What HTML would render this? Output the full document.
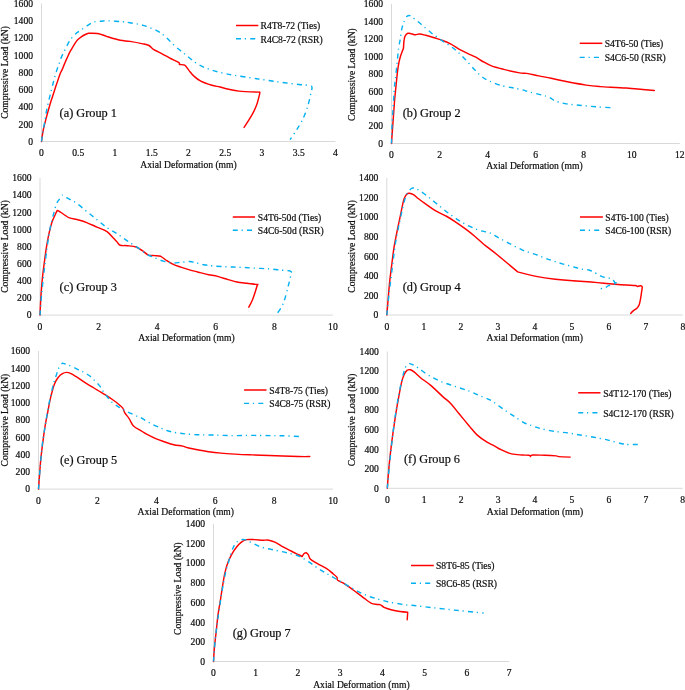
<!DOCTYPE html><html><head><meta charset="utf-8"><style>html,body{margin:0;padding:0;background:#fff;}svg{display:block;will-change:transform;}text{font-family:"Liberation Serif",serif;fill:#0d0d0d;stroke:#0d0d0d;stroke-width:0.2px;}</style></head><body>
<svg width="685" height="690" viewBox="0 0 685 690">
<rect width="685" height="690" fill="#fff"/>
<g>
<g><path d="M41.5 3.5V141.5H335.5" fill="none" stroke="#d9d9d9" stroke-width="1"/><text x="33.0" y="144.8" font-size="9.6" text-anchor="end">0</text><text x="33.0" y="127.5" font-size="9.6" text-anchor="end">200</text><text x="33.0" y="110.3" font-size="9.6" text-anchor="end">400</text><text x="33.0" y="93.0" font-size="9.6" text-anchor="end">600</text><text x="33.0" y="75.8" font-size="9.6" text-anchor="end">800</text><text x="33.0" y="58.5" font-size="9.6" text-anchor="end">1000</text><text x="33.0" y="41.3" font-size="9.6" text-anchor="end">1200</text><text x="33.0" y="24.1" font-size="9.6" text-anchor="end">1400</text><text x="33.0" y="6.8" font-size="9.6" text-anchor="end">1600</text><text x="41.5" y="156.3" font-size="9.6" text-anchor="middle">0</text><text x="78.2" y="156.3" font-size="9.6" text-anchor="middle">0.5</text><text x="115.0" y="156.3" font-size="9.6" text-anchor="middle">1</text><text x="151.8" y="156.3" font-size="9.6" text-anchor="middle">1.5</text><text x="188.5" y="156.3" font-size="9.6" text-anchor="middle">2</text><text x="225.2" y="156.3" font-size="9.6" text-anchor="middle">2.5</text><text x="262.0" y="156.3" font-size="9.6" text-anchor="middle">3</text><text x="298.8" y="156.3" font-size="9.6" text-anchor="middle">3.5</text><text x="335.5" y="156.3" font-size="9.6" text-anchor="middle">4</text><text x="188.5" y="167.8" font-size="9.6" text-anchor="middle">Axial Deformation (mm)</text><text transform="translate(5.0 72.5) rotate(-90)" font-size="9.6" text-anchor="middle" y="2.8">Compressive Load (kN)</text><text x="59.6" y="117.2" font-size="12.3">(a) Group 1</text><line x1="236.0" y1="25.5" x2="258.3" y2="25.5" stroke="#ff0000" stroke-width="1.5"/><line x1="236.0" y1="38.8" x2="258.3" y2="38.8" stroke="#00b0f0" stroke-width="1.4" stroke-dasharray="5 3.8 1.2 4.2"/><text x="260.5" y="29.3" font-size="9.6">R4T8-72 (Ties)</text><text x="260.5" y="42.6" font-size="9.6">R4C8-72 (RSR)</text><path d="M41.5 141.5C41.5 141.5 42.6 133.1 43.5 128.9C44.4 124.8 45.6 120.5 46.6 116.6C47.6 112.7 48.7 109.0 49.7 105.5C50.7 102.0 51.9 98.6 52.8 95.7C53.7 92.8 54.4 90.8 55.2 88.3C56.0 85.8 56.9 83.4 57.7 80.9C58.5 78.4 59.5 75.4 60.2 73.5C61.0 71.6 61.5 71.2 62.2 69.5C62.9 67.8 63.8 65.5 64.6 63.6C65.4 61.7 66.1 60.0 67.0 58.1C67.9 56.2 68.8 54.0 69.8 52.1C70.8 50.2 72.0 48.4 72.9 46.9C73.8 45.4 74.5 44.1 75.3 42.9C76.1 41.7 76.7 40.7 77.7 39.7C78.7 38.7 80.0 37.8 81.3 36.9C82.6 36.0 84.1 35.1 85.3 34.5C86.5 33.9 87.3 33.5 88.5 33.3C89.7 33.1 91.0 33.2 92.5 33.2C94.0 33.2 95.8 33.3 97.3 33.5C98.8 33.7 100.0 34.1 101.3 34.5C102.6 34.9 103.8 35.3 105.0 35.7C106.2 36.1 106.0 36.2 108.5 37.0C111.0 37.8 116.6 39.6 120.2 40.3C123.8 41.0 126.4 40.8 130.0 41.4C133.6 42.0 138.5 42.9 141.7 43.6C144.9 44.3 147.1 44.5 149.0 45.5C150.9 46.5 151.2 48.0 153.4 49.4C155.6 50.8 159.4 52.4 162.1 53.8C164.8 55.2 166.6 56.4 169.4 57.9C172.2 59.4 177.2 61.5 178.9 62.6C180.6 63.7 178.6 64.1 179.6 64.5C180.6 64.9 183.1 64.2 184.7 65.2C186.3 66.2 187.5 68.7 189.1 70.6C190.7 72.5 192.2 74.7 194.2 76.4C196.1 78.2 197.9 79.6 200.8 81.1C203.7 82.6 208.6 84.2 211.8 85.2C215.0 86.2 217.2 86.3 220.0 87.0C222.8 87.7 225.6 88.5 228.8 89.2C232.0 89.9 233.9 90.6 239.0 91.1C244.1 91.6 259.4 92.1 259.4 92.1C259.4 92.1 260.2 91.4 259.7 93.6C259.2 95.8 257.8 101.8 256.5 105.3C255.2 108.8 254.2 111.0 252.1 114.7C250.0 118.4 244.1 127.4 244.1 127.4" fill="none" stroke="#ff0000" stroke-width="1.45" stroke-linejoin="round" stroke-linecap="round"/><path d="M41.5 141.5C41.5 141.5 42.4 134.7 42.9 131.4C43.4 128.1 44.2 125.0 44.8 121.5C45.4 118.0 45.9 114.2 46.6 110.5C47.3 106.8 48.3 102.9 49.1 99.4C49.9 95.9 50.7 92.8 51.5 89.5C52.3 86.2 53.2 82.8 54.0 79.7C54.8 76.6 55.7 73.7 56.5 71.1C57.3 68.5 58.2 66.4 59.0 64.2C59.8 62.0 60.1 60.2 61.0 58.1C61.9 56.0 63.1 53.5 64.2 51.3C65.3 49.1 66.3 47.0 67.4 44.9C68.5 42.8 69.6 40.8 71.0 38.9C72.4 37.0 74.0 35.2 75.7 33.7C77.4 32.2 79.3 31.2 81.3 29.8C83.3 28.4 85.6 26.7 87.7 25.4C89.8 24.1 91.8 22.7 94.1 22.0C96.4 21.3 98.9 21.4 101.3 21.2C103.7 21.0 105.0 20.7 108.5 20.8C112.0 20.9 118.6 21.4 122.2 21.7C125.8 22.0 126.5 22.2 130.0 22.8C133.5 23.4 138.7 24.0 143.1 25.3C147.5 26.6 152.7 28.6 156.3 30.4C160.0 32.2 162.1 33.9 165.0 36.3C167.9 38.7 170.9 42.3 173.8 45.0C176.7 47.7 179.9 50.1 182.6 52.3C185.3 54.5 187.2 56.1 189.9 58.2C192.6 60.3 195.4 62.9 198.6 64.7C201.8 66.5 205.2 67.8 208.8 69.1C212.5 70.4 216.2 71.5 220.5 72.5C224.8 73.5 228.6 74.3 234.6 75.3C240.6 76.3 249.2 77.6 256.5 78.7C263.8 79.8 271.3 80.9 278.4 81.9C285.4 82.9 293.6 83.9 298.8 84.5C304.0 85.1 307.6 85.0 309.8 85.5C312.0 86.0 311.9 86.1 312.0 87.7C312.1 89.3 311.2 91.8 310.5 95.0C309.8 98.2 308.8 102.8 307.6 106.7C306.4 110.6 304.9 114.8 303.2 118.4C301.5 122.1 299.6 125.1 297.4 128.6C295.2 132.1 290.1 139.6 290.1 139.6" fill="none" stroke="#00b0f0" stroke-width="1.4" stroke-dasharray="5 3.8 1.2 4.2" stroke-linejoin="round"/></g>
<g><path d="M391.5 3.9V143.5H679.8" fill="none" stroke="#d9d9d9" stroke-width="1"/><text x="383.0" y="146.8" font-size="9.6" text-anchor="end">0</text><text x="383.0" y="129.3" font-size="9.6" text-anchor="end">200</text><text x="383.0" y="111.9" font-size="9.6" text-anchor="end">400</text><text x="383.0" y="94.5" font-size="9.6" text-anchor="end">600</text><text x="383.0" y="77.0" font-size="9.6" text-anchor="end">800</text><text x="383.0" y="59.5" font-size="9.6" text-anchor="end">1000</text><text x="383.0" y="42.1" font-size="9.6" text-anchor="end">1200</text><text x="383.0" y="24.7" font-size="9.6" text-anchor="end">1400</text><text x="383.0" y="7.2" font-size="9.6" text-anchor="end">1600</text><text x="391.5" y="158.3" font-size="9.6" text-anchor="middle">0</text><text x="439.6" y="158.3" font-size="9.6" text-anchor="middle">2</text><text x="487.6" y="158.3" font-size="9.6" text-anchor="middle">4</text><text x="535.6" y="158.3" font-size="9.6" text-anchor="middle">6</text><text x="583.7" y="158.3" font-size="9.6" text-anchor="middle">8</text><text x="631.8" y="158.3" font-size="9.6" text-anchor="middle">10</text><text x="679.8" y="158.3" font-size="9.6" text-anchor="middle">12</text><text x="534.4" y="168.8" font-size="9.6" text-anchor="middle">Axial Deformation (mm)</text><text transform="translate(352.0 74.6) rotate(-90)" font-size="9.6" text-anchor="middle" y="2.8">Compressive Load (kN)</text><text x="402.7" y="117.3" font-size="12.3">(b) Group 2</text><line x1="579.7" y1="43.3" x2="602.3" y2="43.3" stroke="#ff0000" stroke-width="1.5"/><line x1="579.7" y1="57.4" x2="602.3" y2="57.4" stroke="#00b0f0" stroke-width="1.4" stroke-dasharray="5 3.8 1.2 4.2"/><text x="604.7" y="47.1" font-size="9.6">S4T6-50 (Ties)</text><text x="604.7" y="61.2" font-size="9.6">S4C6-50 (RSR)</text><path d="M391.5 143.5C391.5 143.5 392.6 127.8 393.1 120.6C393.6 113.4 394.1 106.2 394.6 100.3C395.1 94.4 395.6 90.0 396.1 85.1C396.6 80.2 397.1 74.7 397.6 70.8C398.1 66.9 398.6 64.2 399.1 61.7C399.6 59.2 400.2 57.3 400.7 55.6C401.2 53.9 401.8 52.7 402.2 51.5C402.6 50.3 403.1 49.7 403.4 48.5C403.6 47.3 403.6 45.9 403.7 44.4C403.8 42.9 403.9 40.8 404.2 39.4C404.4 38.0 404.6 36.8 405.2 35.8C405.8 34.8 406.8 33.6 407.8 33.3C408.8 33.0 410.0 33.5 411.3 33.8C412.6 34.0 414.0 34.8 415.4 34.8C416.8 34.8 417.8 33.9 419.5 34.0C421.2 34.1 423.4 34.7 425.8 35.3C428.2 35.9 431.4 36.9 434.2 37.8C437.0 38.7 439.8 39.5 442.6 40.5C445.4 41.5 448.2 42.6 451.0 44.1C453.8 45.6 456.6 47.8 459.4 49.4C462.2 51.0 465.3 52.3 468.0 53.6C470.7 54.9 473.3 55.9 475.8 57.2C478.3 58.5 480.2 60.0 482.8 61.5C485.4 63.0 488.0 64.6 491.5 65.9C495.0 67.2 499.1 68.2 503.8 69.4C508.5 70.6 515.8 72.2 519.6 72.9C523.4 73.6 523.4 72.9 526.6 73.4C529.8 73.9 534.7 75.1 538.8 75.9C542.9 76.7 546.7 77.3 551.1 78.2C555.5 79.1 559.3 80.2 565.1 81.3C570.9 82.4 580.2 84.2 586.0 85.1C591.8 86.0 593.3 86.1 600.0 86.6C606.7 87.1 617.2 87.3 626.3 88.0C635.3 88.7 654.3 90.5 654.3 90.5" fill="none" stroke="#ff0000" stroke-width="1.45" stroke-linejoin="round" stroke-linecap="round"/><path d="M391.5 143.5C391.5 143.5 391.6 132.9 392.0 125.7C392.4 118.5 393.2 107.1 393.6 100.3C394.0 93.5 394.3 88.9 394.6 85.1C394.9 81.3 395.2 81.1 395.6 77.4C396.0 73.7 396.6 67.5 397.1 62.7C397.6 57.9 398.1 52.4 398.6 48.5C399.1 44.6 399.7 42.6 400.2 39.4C400.7 36.2 401.2 31.8 401.7 29.3C402.2 26.8 402.7 25.7 403.2 24.2C403.7 22.7 404.0 21.5 404.7 20.1C405.4 18.8 406.4 16.9 407.3 16.1C408.2 15.4 409.0 15.4 409.8 15.6C410.6 15.8 411.4 16.4 412.3 17.1C413.2 17.8 414.1 18.6 415.4 19.6C416.7 20.6 417.5 21.2 420.0 23.3C422.5 25.4 426.3 28.9 430.2 32.0C434.1 35.1 439.4 38.8 443.5 41.7C447.6 44.6 451.1 46.4 454.7 49.3C458.3 52.2 461.5 55.5 464.9 59.0C468.3 62.5 472.2 67.2 475.2 70.3C478.2 73.4 480.6 75.7 483.0 77.5C485.4 79.3 486.9 79.9 489.8 81.2C492.7 82.5 496.5 84.1 500.3 85.2C504.1 86.3 509.1 87.1 512.6 87.8C516.1 88.5 518.4 88.9 521.3 89.6C524.2 90.3 526.6 91.3 530.1 92.2C533.6 93.1 539.1 94.3 542.3 95.2C545.5 96.1 547.1 96.4 549.3 97.4C551.5 98.4 552.9 100.0 555.5 101.0C558.1 102.0 561.2 102.9 565.1 103.6C569.0 104.3 573.8 104.7 579.0 105.2C584.2 105.7 590.7 106.4 596.5 106.8C602.3 107.2 614.0 107.8 614.0 107.8" fill="none" stroke="#00b0f0" stroke-width="1.4" stroke-dasharray="5 3.8 1.2 4.2" stroke-linejoin="round"/></g>
<g><path d="M40.0 177.9V315.1H332.9" fill="none" stroke="#d9d9d9" stroke-width="1"/><text x="31.5" y="318.4" font-size="9.6" text-anchor="end">0</text><text x="31.5" y="301.3" font-size="9.6" text-anchor="end">200</text><text x="31.5" y="284.1" font-size="9.6" text-anchor="end">400</text><text x="31.5" y="267.0" font-size="9.6" text-anchor="end">600</text><text x="31.5" y="249.8" font-size="9.6" text-anchor="end">800</text><text x="31.5" y="232.7" font-size="9.6" text-anchor="end">1000</text><text x="31.5" y="215.5" font-size="9.6" text-anchor="end">1200</text><text x="31.5" y="198.4" font-size="9.6" text-anchor="end">1400</text><text x="31.5" y="181.2" font-size="9.6" text-anchor="end">1600</text><text x="40.0" y="329.9" font-size="9.6" text-anchor="middle">0</text><text x="98.6" y="329.9" font-size="9.6" text-anchor="middle">2</text><text x="157.2" y="329.9" font-size="9.6" text-anchor="middle">4</text><text x="215.7" y="329.9" font-size="9.6" text-anchor="middle">6</text><text x="274.3" y="329.9" font-size="9.6" text-anchor="middle">8</text><text x="332.9" y="329.9" font-size="9.6" text-anchor="middle">10</text><text x="186.4" y="340.9" font-size="9.6" text-anchor="middle">Axial Deformation (mm)</text><text transform="translate(4.7 246.5) rotate(-90)" font-size="9.6" text-anchor="middle" y="2.8">Compressive Load (kN)</text><text x="59.6" y="290.9" font-size="12.3">(c) Group 3</text><line x1="232.8" y1="217.0" x2="255.0" y2="217.0" stroke="#ff0000" stroke-width="1.5"/><line x1="232.8" y1="230.2" x2="255.0" y2="230.2" stroke="#00b0f0" stroke-width="1.4" stroke-dasharray="5 3.8 1.2 4.2"/><text x="257.8" y="220.8" font-size="9.6">S4T6-50d (Ties)</text><text x="257.8" y="234.0" font-size="9.6">S4C6-50d (RSR)</text><path d="M40.0 315.1C40.0 315.1 40.6 300.2 41.1 293.6C41.6 287.0 42.1 280.7 42.7 275.3C43.3 269.9 43.9 265.8 44.5 261.1C45.1 256.4 45.7 251.6 46.5 246.9C47.3 242.2 48.2 236.9 49.2 232.7C50.2 228.5 51.2 224.6 52.2 221.6C53.2 218.6 54.4 216.4 55.3 214.5C56.1 212.6 57.3 210.4 57.3 210.4C57.3 210.4 58.9 211.2 60.3 212.0C61.6 212.8 63.9 214.5 65.4 215.5C66.9 216.5 67.3 217.2 69.5 217.9C71.7 218.7 75.7 219.2 78.6 220.0C81.5 220.8 83.7 221.4 86.7 222.6C89.8 223.8 93.5 225.6 96.9 227.1C100.3 228.6 104.3 229.9 107.0 231.7C109.7 233.5 111.4 236.1 113.1 237.8C114.8 239.5 115.9 240.7 117.1 241.9C118.3 243.2 118.5 244.7 120.2 245.3C121.9 245.9 124.7 245.4 127.3 245.7C129.9 246.0 133.6 246.2 136.1 247.0C138.6 247.8 140.2 249.3 142.3 250.7C144.4 252.0 146.4 254.3 148.4 255.1C150.4 255.9 152.4 255.4 154.5 255.6C156.6 255.8 158.6 255.5 160.7 256.3C162.8 257.2 164.6 259.3 166.8 260.7C169.0 262.1 171.5 263.6 173.8 264.7C176.1 265.8 178.2 266.2 180.8 267.1C183.4 268.0 186.4 269.0 189.6 269.9C192.8 270.8 196.9 271.8 200.1 272.6C203.3 273.4 205.9 274.1 208.8 274.7C211.7 275.3 214.4 275.6 217.6 276.4C220.8 277.2 224.9 278.7 228.1 279.6C231.3 280.5 233.8 281.4 236.9 282.0C240.1 282.6 243.7 282.9 247.0 283.3C250.3 283.7 255.2 284.2 256.9 284.5C258.6 284.8 257.6 283.8 257.3 285.0C257.0 286.2 256.0 289.5 255.2 292.0C254.4 294.5 253.4 297.7 252.3 300.2C251.2 302.7 248.8 307.2 248.8 307.2" fill="none" stroke="#ff0000" stroke-width="1.45" stroke-linejoin="round" stroke-linecap="round"/><path d="M40.0 315.1C40.0 315.1 41.0 300.9 41.7 293.6C42.4 286.3 43.2 279.1 44.1 271.3C45.0 263.5 46.2 254.2 47.2 246.9C48.2 239.6 49.2 232.9 50.2 227.7C51.2 222.5 52.2 219.4 53.2 215.5C54.2 211.6 55.3 207.0 56.3 204.3C57.3 201.6 58.3 200.8 59.3 199.3C60.3 197.8 62.4 195.2 62.4 195.2C62.4 195.2 66.1 197.3 68.5 198.7C70.9 200.0 73.6 201.2 76.6 203.3C79.6 205.4 83.3 208.7 86.7 211.4C90.1 214.1 93.5 216.9 96.9 219.6C100.3 222.3 103.6 225.3 107.0 227.7C110.4 230.1 113.7 231.6 117.1 233.8C120.5 236.0 124.0 238.7 127.3 240.9C130.6 243.1 133.6 244.9 137.0 247.2C140.4 249.5 144.6 252.8 147.5 254.5C150.4 256.2 151.9 256.6 154.5 257.7C157.1 258.8 160.4 260.3 163.3 261.2C166.2 262.1 169.1 262.7 172.0 262.9C174.9 263.1 177.9 262.6 180.8 262.4C183.7 262.2 187.0 261.4 189.6 261.5C192.2 261.6 194.3 262.4 196.6 262.9C198.9 263.4 201.0 264.2 203.6 264.7C206.2 265.2 208.5 265.5 212.3 265.9C216.1 266.2 221.8 266.6 226.4 266.8C231.0 267.0 235.4 267.1 240.0 267.3C244.6 267.5 249.1 267.8 254.0 268.1C258.9 268.4 264.5 268.5 269.2 268.9C273.9 269.2 278.7 269.9 282.0 270.2C285.3 270.5 287.4 270.5 289.0 270.8C290.6 271.1 291.4 272.0 291.4 272.0C291.4 272.0 290.7 275.8 290.2 278.0C289.7 280.2 289.1 282.7 288.5 285.0C287.9 287.3 287.4 289.5 286.7 292.0C286.0 294.5 285.3 297.7 284.4 300.2C283.5 302.7 282.7 305.0 281.5 307.2C280.3 309.4 277.4 313.1 277.4 313.1" fill="none" stroke="#00b0f0" stroke-width="1.4" stroke-dasharray="5 3.8 1.2 4.2" stroke-linejoin="round"/></g>
<g><path d="M386.8 177.9V315.0H682.8" fill="none" stroke="#d9d9d9" stroke-width="1"/><text x="378.3" y="318.3" font-size="9.6" text-anchor="end">0</text><text x="378.3" y="298.7" font-size="9.6" text-anchor="end">200</text><text x="378.3" y="279.1" font-size="9.6" text-anchor="end">400</text><text x="378.3" y="259.5" font-size="9.6" text-anchor="end">600</text><text x="378.3" y="240.0" font-size="9.6" text-anchor="end">800</text><text x="378.3" y="220.4" font-size="9.6" text-anchor="end">1000</text><text x="378.3" y="200.8" font-size="9.6" text-anchor="end">1200</text><text x="378.3" y="181.2" font-size="9.6" text-anchor="end">1400</text><text x="386.8" y="329.8" font-size="9.6" text-anchor="middle">0</text><text x="423.8" y="329.8" font-size="9.6" text-anchor="middle">1</text><text x="460.8" y="329.8" font-size="9.6" text-anchor="middle">2</text><text x="497.8" y="329.8" font-size="9.6" text-anchor="middle">3</text><text x="534.8" y="329.8" font-size="9.6" text-anchor="middle">4</text><text x="571.8" y="329.8" font-size="9.6" text-anchor="middle">5</text><text x="608.8" y="329.8" font-size="9.6" text-anchor="middle">6</text><text x="645.8" y="329.8" font-size="9.6" text-anchor="middle">7</text><text x="682.8" y="329.8" font-size="9.6" text-anchor="middle">8</text><text x="534.8" y="341.4" font-size="9.6" text-anchor="middle">Axial Deformation (mm)</text><text transform="translate(352.0 246.4) rotate(-90)" font-size="9.6" text-anchor="middle" y="2.8">Compressive Load (kN)</text><text x="402.7" y="290.9" font-size="12.3">(d) Group 4</text><line x1="580.0" y1="217.0" x2="602.9" y2="217.0" stroke="#ff0000" stroke-width="1.5"/><line x1="580.0" y1="230.2" x2="602.9" y2="230.2" stroke="#00b0f0" stroke-width="1.4" stroke-dasharray="5 3.8 1.2 4.2"/><text x="605.3" y="220.8" font-size="9.6">S4T6-100 (Ties)</text><text x="605.3" y="234.0" font-size="9.6">S4C6-100 (RSR)</text><path d="M386.8 315.0C386.8 315.0 387.6 305.3 388.1 299.7C388.6 294.1 389.1 287.1 389.7 281.4C390.3 275.6 391.0 270.9 391.7 265.2C392.4 259.4 393.2 252.7 394.1 246.9C395.0 241.2 396.2 235.8 397.2 230.7C398.2 225.6 399.3 220.9 400.2 216.5C401.1 212.1 402.0 207.3 402.7 204.3C403.4 201.3 403.6 200.0 404.3 198.3C405.0 196.6 405.9 195.0 406.7 194.2C407.5 193.3 408.3 193.1 409.4 193.2C410.5 193.3 411.9 193.7 413.4 194.6C414.9 195.5 416.3 197.0 418.5 198.7C420.7 200.4 423.6 202.6 426.6 204.7C429.6 206.8 433.3 209.4 436.7 211.4C440.1 213.4 443.8 214.8 446.9 216.5C449.9 218.2 452.0 219.6 455.0 221.6C458.0 223.6 461.7 226.2 465.1 228.7C468.5 231.2 472.2 234.2 475.3 236.8C478.4 239.4 480.3 241.5 484.0 244.5C487.7 247.5 491.9 250.4 497.5 255.0C503.1 259.6 517.7 271.9 517.7 271.9C517.7 271.9 529.8 275.2 536.1 276.4C542.4 277.6 549.2 278.5 555.3 279.2C561.4 279.9 568.8 280.5 572.9 280.8C577.0 281.1 575.9 280.9 580.0 281.2C584.1 281.5 591.7 282.1 597.5 282.6C603.3 283.1 610.2 283.8 615.0 284.2C619.8 284.6 622.6 284.8 626.0 285.0C629.4 285.2 633.5 285.3 635.4 285.5C637.3 285.7 636.8 286.4 637.6 286.4C638.5 286.4 639.7 285.6 640.5 285.7C641.3 285.8 642.0 285.8 642.2 286.8C642.4 287.8 641.9 289.8 641.6 291.9C641.3 294.0 640.9 297.0 640.5 299.2C640.1 301.4 639.7 303.5 639.1 305.0C638.5 306.5 637.9 307.3 636.9 308.3C635.9 309.3 634.2 310.0 633.2 310.9C632.2 311.8 630.7 313.4 630.7 313.4" fill="none" stroke="#ff0000" stroke-width="1.45" stroke-linejoin="round" stroke-linecap="round"/><path d="M386.8 315.0C386.8 315.0 388.4 299.9 389.1 293.6C389.8 287.3 390.4 282.8 391.1 277.4C391.8 272.0 392.4 266.5 393.1 261.1C393.8 255.7 394.4 250.3 395.2 244.9C396.0 239.5 397.2 233.8 398.2 228.7C399.2 223.6 400.2 219.1 401.2 214.5C402.2 209.9 403.3 204.9 404.3 201.3C405.3 197.8 406.1 195.3 407.3 193.2C408.5 191.1 410.2 189.3 411.4 188.5C412.6 187.7 413.0 187.8 414.4 188.1C415.8 188.4 417.1 189.0 419.5 190.5C421.9 192.0 425.4 194.7 428.6 197.2C431.8 199.7 435.4 202.7 438.8 205.4C442.2 208.1 445.5 211.0 448.9 213.5C452.3 216.0 455.7 218.5 459.1 220.6C462.5 222.7 465.8 224.6 469.2 226.2C472.6 227.8 475.8 229.2 479.3 230.3C482.9 231.5 487.5 231.9 490.5 233.1C493.5 234.2 494.6 235.6 497.5 237.2C500.4 238.8 503.9 240.7 508.0 242.8C512.1 244.9 517.3 247.8 522.0 249.8C526.7 251.8 531.4 253.0 536.1 254.7C540.8 256.4 545.7 258.4 550.1 259.9C554.5 261.4 557.9 262.5 562.3 263.8C566.7 265.1 573.1 266.8 576.4 267.7C579.6 268.6 579.7 268.7 581.8 269.1C583.9 269.5 586.5 269.4 588.8 270.0C591.0 270.6 593.3 272.0 595.3 273.0C597.3 274.0 599.2 275.3 601.0 276.1C602.8 276.9 604.6 277.4 606.3 277.8C608.0 278.2 609.9 278.1 611.1 278.5C612.3 278.9 612.6 279.4 613.3 280.2C613.9 280.9 615.0 283.0 615.0 283.0C615.0 283.0 617.7 282.4 617.7 282.4C617.7 282.4 614.5 284.1 613.0 284.6C611.5 285.1 609.8 285.1 608.5 285.6C607.2 286.1 606.6 287.1 605.5 287.6C604.4 288.1 602.8 288.3 602.0 288.5C601.2 288.7 600.5 288.6 600.5 288.6" fill="none" stroke="#00b0f0" stroke-width="1.4" stroke-dasharray="5 3.8 1.2 4.2" stroke-linejoin="round"/></g>
<g><path d="M38.5 351.1V489.1H333.0" fill="none" stroke="#d9d9d9" stroke-width="1"/><text x="30.0" y="492.4" font-size="9.6" text-anchor="end">0</text><text x="30.0" y="475.2" font-size="9.6" text-anchor="end">200</text><text x="30.0" y="457.9" font-size="9.6" text-anchor="end">400</text><text x="30.0" y="440.7" font-size="9.6" text-anchor="end">600</text><text x="30.0" y="423.4" font-size="9.6" text-anchor="end">800</text><text x="30.0" y="406.2" font-size="9.6" text-anchor="end">1000</text><text x="30.0" y="388.9" font-size="9.6" text-anchor="end">1200</text><text x="30.0" y="371.7" font-size="9.6" text-anchor="end">1400</text><text x="30.0" y="354.4" font-size="9.6" text-anchor="end">1600</text><text x="38.5" y="503.9" font-size="9.6" text-anchor="middle">0</text><text x="97.4" y="503.9" font-size="9.6" text-anchor="middle">2</text><text x="156.3" y="503.9" font-size="9.6" text-anchor="middle">4</text><text x="215.2" y="503.9" font-size="9.6" text-anchor="middle">6</text><text x="274.1" y="503.9" font-size="9.6" text-anchor="middle">8</text><text x="333.0" y="503.9" font-size="9.6" text-anchor="middle">10</text><text x="185.8" y="514.6" font-size="9.6" text-anchor="middle">Axial Deformation (mm)</text><text transform="translate(4.8 420.1) rotate(-90)" font-size="9.6" text-anchor="middle" y="2.8">Compressive Load (kN)</text><text x="59.9" y="463.7" font-size="12.3">(e) Group 5</text><line x1="244.1" y1="390.0" x2="266.5" y2="390.0" stroke="#ff0000" stroke-width="1.5"/><line x1="244.1" y1="403.4" x2="266.5" y2="403.4" stroke="#00b0f0" stroke-width="1.4" stroke-dasharray="5 3.8 1.2 4.2"/><text x="269.3" y="393.8" font-size="9.6">S4T8-75 (Ties)</text><text x="269.3" y="407.2" font-size="9.6">S4C8-75 (RSR)</text><path d="M38.5 489.1C38.5 489.1 39.3 478.1 39.7 472.6C40.1 467.2 40.5 461.8 41.1 456.4C41.7 451.0 42.4 445.3 43.1 440.2C43.8 435.1 44.3 430.7 45.1 426.0C45.9 421.3 46.9 416.5 47.8 411.8C48.7 407.1 49.5 402.2 50.6 397.6C51.7 393.0 53.0 387.8 54.3 384.4C55.6 381.0 56.9 379.1 58.3 377.3C59.6 375.5 61.0 374.5 62.4 373.7C63.8 372.9 65.1 372.5 66.4 372.4C67.8 372.3 68.8 372.6 70.5 373.3C72.2 374.1 74.2 375.4 76.6 376.9C79.0 378.4 81.7 380.5 84.7 382.4C87.7 384.3 91.4 386.5 94.8 388.5C98.2 390.5 102.0 392.7 105.0 394.6C108.0 396.5 110.7 398.3 113.1 400.0C115.5 401.7 117.6 403.3 119.2 404.7C120.8 406.1 121.9 406.8 122.8 408.1C123.7 409.5 123.7 411.0 124.8 412.8C125.9 414.6 127.9 416.7 129.3 418.9C130.8 421.1 131.3 423.8 133.5 425.9C135.7 428.0 140.0 430.0 142.3 431.5C144.6 433.0 145.2 433.5 147.5 434.7C149.8 435.9 153.4 437.7 156.3 438.9C159.2 440.1 162.1 441.0 165.0 442.0C167.9 443.0 170.9 444.0 173.8 444.7C176.7 445.4 180.3 445.6 182.6 446.1C184.9 446.6 184.9 447.0 187.8 447.7C190.7 448.4 196.6 449.6 200.1 450.3C203.6 451.0 205.3 451.2 208.8 451.7C212.3 452.2 216.7 452.7 221.1 453.1C225.5 453.5 230.3 453.8 235.1 454.1C239.9 454.4 244.3 454.6 250.0 454.8C255.7 455.0 261.1 455.2 269.2 455.5C277.3 455.8 291.6 456.3 298.4 456.5C305.2 456.7 309.8 456.5 309.8 456.5" fill="none" stroke="#ff0000" stroke-width="1.45" stroke-linejoin="round" stroke-linecap="round"/><path d="M38.5 489.1C38.5 489.1 39.5 475.7 40.1 468.6C40.7 461.5 41.4 452.7 42.1 446.3C42.8 439.9 43.6 435.5 44.5 430.1C45.4 424.7 46.2 419.2 47.2 413.8C48.2 408.4 49.1 402.8 50.2 397.6C51.3 392.4 52.9 386.1 53.9 382.4C54.9 378.7 55.5 377.7 56.3 375.3C57.1 372.9 57.7 370.2 58.7 368.2C59.7 366.2 62.4 363.1 62.4 363.1C62.4 363.1 66.1 364.2 68.5 365.1C70.9 366.1 74.2 367.7 76.6 368.8C79.0 369.9 81.1 370.7 83.1 371.8C85.1 372.9 86.9 373.9 88.8 375.3C90.7 376.7 92.7 378.6 94.4 380.3C96.2 382.0 97.8 383.6 99.3 385.4C100.8 387.2 101.9 389.4 103.2 391.3C104.5 393.2 105.6 394.9 107.1 396.8C108.6 398.7 110.5 400.8 112.4 402.5C114.3 404.2 116.5 405.5 118.5 406.8C120.5 408.1 122.7 409.2 124.7 410.3C126.8 411.4 128.6 412.4 130.8 413.4C133.0 414.4 136.2 415.8 137.8 416.5C139.4 417.2 138.3 416.3 140.5 417.5C142.7 418.7 147.5 421.9 151.0 423.7C154.5 425.5 158.3 427.1 161.5 428.4C164.7 429.7 166.8 430.6 170.3 431.5C173.8 432.4 178.2 433.1 182.6 433.6C187.0 434.1 191.6 434.5 196.6 434.7C201.6 434.9 206.8 434.9 212.3 435.0C217.9 435.1 223.6 435.5 229.9 435.6C236.2 435.7 243.4 435.4 250.0 435.4C256.6 435.4 263.6 435.5 269.2 435.6C274.8 435.7 278.7 435.6 283.8 435.8C288.9 436.0 299.9 436.6 299.9 436.6" fill="none" stroke="#00b0f0" stroke-width="1.4" stroke-dasharray="5 3.8 1.2 4.2" stroke-linejoin="round"/></g>
<g><path d="M387.3 351.5V488.3H682.7" fill="none" stroke="#d9d9d9" stroke-width="1"/><text x="378.8" y="491.6" font-size="9.6" text-anchor="end">0</text><text x="378.8" y="472.1" font-size="9.6" text-anchor="end">200</text><text x="378.8" y="452.5" font-size="9.6" text-anchor="end">400</text><text x="378.8" y="433.0" font-size="9.6" text-anchor="end">600</text><text x="378.8" y="413.4" font-size="9.6" text-anchor="end">800</text><text x="378.8" y="393.9" font-size="9.6" text-anchor="end">1000</text><text x="378.8" y="374.3" font-size="9.6" text-anchor="end">1200</text><text x="378.8" y="354.8" font-size="9.6" text-anchor="end">1400</text><text x="387.3" y="503.1" font-size="9.6" text-anchor="middle">0</text><text x="424.2" y="503.1" font-size="9.6" text-anchor="middle">1</text><text x="461.2" y="503.1" font-size="9.6" text-anchor="middle">2</text><text x="498.1" y="503.1" font-size="9.6" text-anchor="middle">3</text><text x="535.0" y="503.1" font-size="9.6" text-anchor="middle">4</text><text x="571.9" y="503.1" font-size="9.6" text-anchor="middle">5</text><text x="608.9" y="503.1" font-size="9.6" text-anchor="middle">6</text><text x="645.8" y="503.1" font-size="9.6" text-anchor="middle">7</text><text x="682.7" y="503.1" font-size="9.6" text-anchor="middle">8</text><text x="535.0" y="515.1" font-size="9.6" text-anchor="middle">Axial Deformation (mm)</text><text transform="translate(352.0 419.9) rotate(-90)" font-size="9.6" text-anchor="middle" y="2.8">Compressive Load (kN)</text><text x="404.0" y="463.2" font-size="12.3">(f) Group 6</text><line x1="578.2" y1="392.8" x2="600.5" y2="392.8" stroke="#ff0000" stroke-width="1.5"/><line x1="578.2" y1="412.8" x2="600.5" y2="412.8" stroke="#00b0f0" stroke-width="1.4" stroke-dasharray="5 3.8 1.2 4.2"/><text x="603.2" y="396.6" font-size="9.6">S4T12-170 (Ties)</text><text x="603.2" y="416.6" font-size="9.6">S4C12-170 (RSR)</text><path d="M387.3 488.3C387.3 488.3 388.0 478.6 388.5 472.6C389.0 466.6 389.7 459.1 390.5 452.4C391.3 445.6 392.2 438.5 393.1 432.1C394.0 425.7 394.9 419.6 395.8 413.8C396.7 408.1 397.6 403.0 398.6 397.6C399.6 392.2 400.9 385.3 401.8 381.4C402.8 377.5 403.4 376.2 404.3 374.3C405.2 372.4 406.3 370.9 407.3 370.2C408.3 369.4 409.2 369.5 410.4 369.8C411.6 370.1 412.7 370.9 414.4 372.2C416.1 373.5 417.8 375.5 420.5 377.7C423.2 379.9 427.0 382.2 430.7 385.4C434.4 388.5 439.4 393.6 442.8 396.6C446.2 399.7 448.2 400.8 450.9 403.7C453.6 406.6 456.1 410.1 459.1 413.8C462.2 417.5 466.2 422.4 469.2 426.0C472.2 429.6 474.3 432.4 477.3 435.1C480.3 437.8 484.2 440.4 487.0 442.2C489.8 444.0 491.7 444.4 494.0 445.7C496.3 446.9 498.1 448.3 501.0 449.7C503.9 451.1 508.0 453.0 511.5 453.9C515.0 454.8 519.1 454.8 522.0 455.0C524.9 455.2 527.7 455.0 529.1 455.3C530.5 455.6 530.5 456.6 530.5 456.6C530.5 456.6 530.2 455.2 532.6 455.0C535.0 454.8 540.9 455.2 544.8 455.3C548.7 455.4 553.9 455.7 556.2 455.9C558.5 456.1 556.5 456.4 558.8 456.6C561.1 456.8 570.2 457.1 570.2 457.1" fill="none" stroke="#ff0000" stroke-width="1.45" stroke-linejoin="round" stroke-linecap="round"/><path d="M387.3 488.3C387.3 488.3 388.4 476.0 389.1 468.6C389.8 461.2 390.9 451.6 391.7 444.2C392.5 436.8 393.2 430.8 394.1 424.0C395.0 417.2 396.2 409.8 397.2 403.7C398.2 397.6 399.2 392.4 400.2 387.5C401.2 382.6 402.4 377.6 403.3 374.3C404.2 371.0 404.5 369.3 405.3 367.6C406.1 365.9 407.3 364.7 408.3 364.1C409.3 363.5 409.7 363.4 411.4 364.1C413.1 364.8 415.6 366.3 418.5 368.2C421.4 370.1 424.9 373.1 428.6 375.3C432.3 377.5 436.4 379.5 440.8 381.4C445.2 383.2 450.3 384.8 455.0 386.4C459.7 388.0 465.0 389.5 469.2 391.1C473.4 392.7 476.4 394.3 480.0 395.8C483.6 397.3 487.3 398.4 490.5 400.1C493.7 401.9 496.4 404.2 499.3 406.3C502.2 408.4 505.4 410.6 508.0 412.4C510.6 414.1 512.4 415.1 515.0 416.8C517.6 418.5 520.9 421.1 523.8 422.6C526.7 424.1 529.7 424.9 532.6 425.9C535.5 426.9 537.8 427.8 541.3 428.7C544.8 429.6 549.2 430.5 553.6 431.2C558.0 431.9 563.2 432.3 567.6 432.9C572.0 433.5 575.6 434.3 580.0 435.0C584.4 435.7 589.3 436.4 594.0 437.3C598.7 438.2 603.3 439.0 608.0 440.1C612.7 441.2 618.5 443.0 622.0 443.7C625.5 444.4 626.2 444.4 629.0 444.5C631.8 444.6 639.0 444.5 639.0 444.5" fill="none" stroke="#00b0f0" stroke-width="1.4" stroke-dasharray="5 3.8 1.2 4.2" stroke-linejoin="round"/></g>
<g><path d="M213.5 523.8V661.5H509.2" fill="none" stroke="#d9d9d9" stroke-width="1"/><text x="205.0" y="664.8" font-size="9.6" text-anchor="end">0</text><text x="205.0" y="645.1" font-size="9.6" text-anchor="end">200</text><text x="205.0" y="625.5" font-size="9.6" text-anchor="end">400</text><text x="205.0" y="605.8" font-size="9.6" text-anchor="end">600</text><text x="205.0" y="586.1" font-size="9.6" text-anchor="end">800</text><text x="205.0" y="566.4" font-size="9.6" text-anchor="end">1000</text><text x="205.0" y="546.8" font-size="9.6" text-anchor="end">1200</text><text x="205.0" y="527.1" font-size="9.6" text-anchor="end">1400</text><text x="213.5" y="676.3" font-size="9.6" text-anchor="middle">0</text><text x="255.7" y="676.3" font-size="9.6" text-anchor="middle">1</text><text x="298.0" y="676.3" font-size="9.6" text-anchor="middle">2</text><text x="340.2" y="676.3" font-size="9.6" text-anchor="middle">3</text><text x="382.5" y="676.3" font-size="9.6" text-anchor="middle">4</text><text x="424.7" y="676.3" font-size="9.6" text-anchor="middle">5</text><text x="467.0" y="676.3" font-size="9.6" text-anchor="middle">6</text><text x="509.2" y="676.3" font-size="9.6" text-anchor="middle">7</text><text x="361.4" y="688.1" font-size="9.6" text-anchor="middle">Axial Deformation (mm)</text><text transform="translate(177.7 588.6) rotate(-90)" font-size="9.6" text-anchor="middle" y="2.8">Compressive Load (kN)</text><text x="232.7" y="636.7" font-size="12.3">(g) Group 7</text><line x1="411.0" y1="565.5" x2="433.8" y2="565.5" stroke="#ff0000" stroke-width="1.5"/><line x1="411.0" y1="583.2" x2="433.8" y2="583.2" stroke="#00b0f0" stroke-width="1.4" stroke-dasharray="5 3.8 1.2 4.2"/><text x="436.0" y="569.3" font-size="9.6">S8T6-85 (Ties)</text><text x="436.0" y="587.0" font-size="9.6">S8C6-85 (RSR)</text><path d="M213.5 661.5C213.5 661.5 214.1 651.5 214.5 646.7C214.9 641.9 215.5 637.9 216.1 632.5C216.7 627.1 217.4 619.3 218.1 614.2C218.8 609.1 219.3 606.8 220.1 602.1C220.8 597.4 221.8 591.0 222.6 585.9C223.4 580.8 224.2 575.8 225.2 571.7C226.1 567.6 227.1 564.5 228.3 561.5C229.5 558.5 231.0 555.8 232.3 553.4C233.7 551.0 234.9 549.2 236.4 547.3C237.9 545.4 239.7 543.5 241.4 542.2C243.1 540.9 244.3 540.0 246.5 539.6C248.7 539.2 251.9 539.5 254.6 539.6C257.3 539.7 260.3 540.1 262.7 540.2C265.1 540.3 266.8 539.9 268.8 540.2C270.8 540.5 272.5 541.1 274.9 542.2C277.3 543.3 280.3 545.4 283.0 546.9C285.7 548.4 288.4 549.6 291.1 551.0C293.8 552.4 297.4 554.1 299.2 555.0C301.0 555.9 302.1 556.6 302.1 556.6C302.1 556.6 303.2 554.4 303.9 553.7C304.6 553.0 306.1 552.6 306.1 552.6C306.1 552.6 307.7 553.8 308.4 554.9C309.1 556.0 309.0 557.8 310.5 559.3C312.0 560.8 314.9 562.2 317.5 563.7C320.1 565.2 324.0 567.0 326.3 568.4C328.6 569.8 329.8 570.9 331.5 572.4C333.2 573.9 335.8 575.8 336.8 577.1C337.8 578.4 336.5 579.2 337.7 580.3C338.9 581.3 341.6 582.1 343.8 583.4C346.0 584.7 348.5 586.5 350.8 588.2C353.1 589.9 355.5 591.6 357.8 593.4C360.1 595.1 362.6 597.1 364.8 598.7C367.0 600.3 368.9 602.1 371.0 603.1C373.1 604.1 375.5 604.2 377.1 604.5C378.7 604.8 379.4 604.3 380.6 604.8C381.8 605.3 382.4 606.6 384.1 607.4C385.9 608.2 388.5 609.0 391.1 609.7C393.7 610.4 397.1 611.1 399.9 611.5C402.7 611.9 407.7 612.2 407.7 612.2C407.7 612.2 407.2 619.7 407.2 619.7" fill="none" stroke="#ff0000" stroke-width="1.45" stroke-linejoin="round" stroke-linecap="round"/><path d="M213.5 661.5C213.5 661.5 214.5 646.8 215.1 640.6C215.7 634.4 216.3 630.1 217.1 624.4C217.9 618.6 218.8 612.2 219.7 606.1C220.6 600.0 221.6 593.6 222.6 587.9C223.6 582.2 224.8 576.1 225.8 571.7C226.8 567.3 227.8 564.7 228.7 561.5C229.6 558.3 230.4 555.1 231.3 552.4C232.2 549.7 233.1 547.2 234.3 545.3C235.5 543.4 236.7 541.8 238.4 540.8C240.1 539.8 242.5 539.4 244.5 539.6C246.5 539.8 247.9 541.0 250.6 542.2C253.3 543.4 257.3 545.7 260.7 546.9C264.1 548.1 267.5 548.5 270.9 549.3C274.3 550.0 277.6 550.6 281.0 551.4C284.4 552.1 287.9 552.9 291.1 553.8C294.3 554.7 297.1 555.2 300.0 556.6C302.9 558.0 305.9 560.0 308.8 561.9C311.7 563.8 314.6 566.1 317.5 568.0C320.4 569.9 323.1 571.4 326.3 573.3C329.5 575.2 333.0 577.2 336.8 579.4C340.6 581.6 345.0 584.1 349.1 586.4C353.2 588.7 357.2 591.2 361.3 593.1C365.4 595.0 369.2 596.4 373.6 597.8C378.0 599.2 382.4 600.5 387.6 601.7C392.9 602.9 401.2 604.2 405.1 604.8C409.1 605.4 406.8 604.7 411.3 605.2C415.8 605.7 425.1 606.9 432.3 607.7C439.5 608.5 447.5 609.3 454.7 610.1C461.9 610.9 470.9 611.8 475.7 612.3C480.5 612.8 483.6 613.0 483.6 613.0" fill="none" stroke="#00b0f0" stroke-width="1.4" stroke-dasharray="5 3.8 1.2 4.2" stroke-linejoin="round"/></g>
</g>
</svg></body></html>
